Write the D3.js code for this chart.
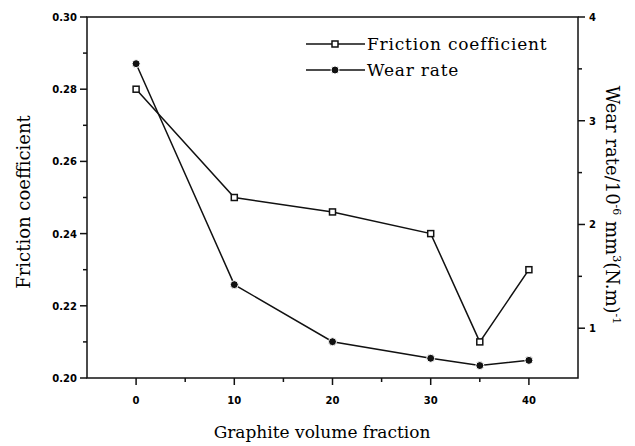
<!DOCTYPE html>
<html>
<head>
<meta charset="utf-8">
<script src="https://cdn.jsdelivr.net/npm/d3@7"></script>
<style>
  body { margin: 0; background: #fff; }
  text { fill: #000; }
  .tick-lbl { font-family: "DejaVu Sans", sans-serif; font-weight: bold; font-size: 10px; }
  .title { font-family: "DejaVu Serif", serif; font-size: 17px; }
</style>
</head>
<body>
<div id="chart"></div>
<script>
// data
var fractions = [0, 10, 20, 30, 35, 40];
var friction = [0.280, 0.250, 0.246, 0.240, 0.210, 0.230];
var wearRate = [3.55, 1.42, 0.87, 0.71, 0.64, 0.69];
var xTicks = [0, 10, 20, 30, 40];
var leftTicks = [0.20, 0.22, 0.24, 0.26, 0.28, 0.30];
var rightTicks = [1, 2, 3, 4];
var legendNames = ["Friction coefficient", "Wear rate"];

var width = 635, height = 446;
var plot = { left: 87, right: 578, top: 17, bottom: 378 };

var svg = d3.select("#chart").append("svg")
  .attr("width", width).attr("height", height);

var x = d3.scaleLinear().domain([-5, 45]).range([plot.left, plot.right]);
var yL = d3.scaleLinear().domain([0.20, 0.30]).range([plot.bottom, plot.top]);
var yR = d3.scaleLinear().domain([0.52, 4]).range([plot.bottom, plot.top]);

// frame
svg.append("rect")
  .attr("x", plot.left).attr("y", plot.top)
  .attr("width", plot.right - plot.left).attr("height", plot.bottom - plot.top)
  .attr("fill", "none").attr("stroke", "#111").attr("stroke-width", 1.5);

// bottom axis
var gx = svg.append("g");
d3.range(0, 41, 5).forEach(function (v) {
  var major = xTicks.indexOf(v) >= 0;
  gx.append("line").attr("x1", x(v)).attr("x2", x(v))
    .attr("y1", plot.bottom).attr("y2", plot.bottom + (major ? 7 : 4))
    .attr("stroke", "#111").attr("stroke-width", 1.5);
});
xTicks.forEach(function (v) {
  gx.append("text").attr("class", "tick-lbl")
    .attr("x", x(v)).attr("y", plot.bottom + 26)
    .attr("text-anchor", "middle").text(v);
});

// left axis
var gl = svg.append("g");
d3.range(0, 11).forEach(function (i) {
  var v = 0.20 + i * 0.01;
  var major = i % 2 === 0;
  gl.append("line").attr("x1", plot.left).attr("x2", plot.left - (major ? 7 : 4))
    .attr("y1", yL(v)).attr("y2", yL(v))
    .attr("stroke", "#111").attr("stroke-width", 1.5);
});
leftTicks.forEach(function (v) {
  gl.append("text").attr("class", "tick-lbl")
    .attr("x", plot.left - 10).attr("y", yL(v) + 4)
    .attr("text-anchor", "end").text(d3.format(".2f")(v));
});

// right axis
var gr = svg.append("g");
d3.range(1, 8).forEach(function (i) {
  var v = 0.5 + i * 0.5;
  var major = i % 2 === 1;
  gr.append("line").attr("x1", plot.right).attr("x2", plot.right + (major ? 7 : 4))
    .attr("y1", yR(v)).attr("y2", yR(v))
    .attr("stroke", "#111").attr("stroke-width", 1.5);
});
rightTicks.forEach(function (v) {
  gr.append("text").attr("class", "tick-lbl")
    .attr("x", plot.right + 11).attr("y", yR(v) + 4)
    .text(v);
});

// titles
svg.append("text").attr("class", "title")
  .attr("x", 322).attr("y", 438)
  .attr("text-anchor", "middle").text("Graphite volume fraction");

svg.append("text").attr("class", "title").style("font-size", "18px")
  .attr("transform", "translate(30,202) rotate(-90)")
  .attr("text-anchor", "middle").text("Friction coefficient");

var rt = svg.append("text").attr("class", "title").style("font-size", "18px")
  .attr("transform", "translate(606,205) rotate(90)")
  .attr("text-anchor", "middle");
rt.append("tspan").text("Wear rate/10");
rt.append("tspan").attr("dy", -7).attr("font-size", 11).text("-6");
rt.append("tspan").attr("dy", 7).text(" mm");
rt.append("tspan").attr("dy", -7).attr("font-size", 11).text("3");
rt.append("tspan").attr("dy", 7).text("(N.m)");
rt.append("tspan").attr("dy", -7).attr("font-size", 11).text("-1");

// series
var fData = fractions.map(function (f, i) { return [f, friction[i]]; });
var wData = fractions.map(function (f, i) { return [f, wearRate[i]]; });

var lineL = d3.line().x(function (d) { return x(d[0]); }).y(function (d) { return yL(d[1]); });
var lineR = d3.line().x(function (d) { return x(d[0]); }).y(function (d) { return yR(d[1]); });

svg.append("path").datum(fData).attr("d", lineL)
  .attr("fill", "none").attr("stroke", "#111").attr("stroke-width", 1.5);
svg.append("path").datum(wData).attr("d", lineR)
  .attr("fill", "none").attr("stroke", "#111").attr("stroke-width", 1.5);

function square(g, cx, cy) {
  g.append("rect").attr("x", cx - 3).attr("y", cy - 3)
    .attr("width", 6).attr("height", 6)
    .attr("fill", "#fff").attr("stroke", "#111").attr("stroke-width", 1.5);
}
function dot(g, cx, cy) {
  g.append("circle").attr("cx", cx).attr("cy", cy).attr("r", 4)
    .attr("fill", "#111").attr("stroke", "#fff").attr("stroke-width", 1);
}

fData.forEach(function (d) { square(svg, x(d[0]), yL(d[1])); });
wData.forEach(function (d) { dot(svg, x(d[0]), yR(d[1])); });

// legend
var lg = svg.append("g");
[44, 70].forEach(function (ly, i) {
  lg.append("line").attr("x1", 306).attr("x2", 365).attr("y1", ly).attr("y2", ly)
    .attr("stroke", "#111").attr("stroke-width", 1.5);
  if (i === 0) square(lg, 335, ly); else dot(lg, 335, ly);
  lg.append("text").attr("class", "title").style("font-size", "17px")
    .style("letter-spacing", "0.8px")
    .attr("x", 367).attr("y", ly + 6).text(legendNames[i]);
});
</script>
</body>
</html>
